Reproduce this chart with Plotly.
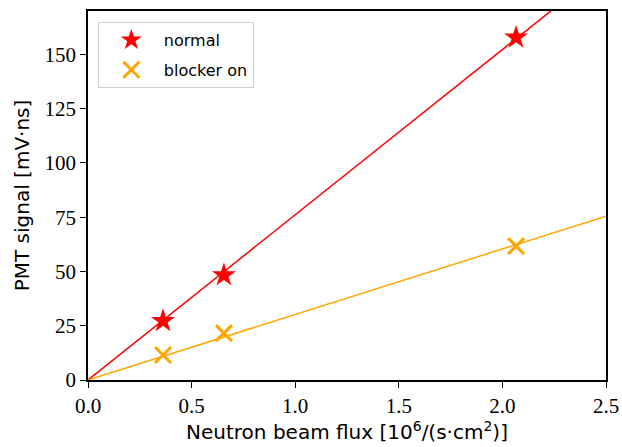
import numpy as np
import plotly.graph_objects as go

flux = [0.362, 0.656, 2.066]
signal_normal = [27.2, 48.3, 157.8]
signal_blocker = [11.5, 21.6, 61.7]
x_ticks = [0.0, 0.5, 1.0, 1.5, 2.0, 2.5]
y_ticks = [0, 25, 50, 75, 100, 125, 150]

xa = np.array(flux)
def fit_slope(y):
    ya = np.array(y)
    return float((xa * ya).sum() / (xa * xa).sum())

k_norm = fit_slope(signal_normal)
k_block = fit_slope(signal_blocker)
xline = np.array([0.0, 2.5])

fig = go.Figure()
fig.add_trace(go.Scatter(x=xline, y=k_norm * xline, mode="lines",
                         line=dict(color="red", width=1.5), showlegend=False, hoverinfo="skip"))
fig.add_trace(go.Scatter(x=xline, y=k_block * xline, mode="lines",
                         line=dict(color="orange", width=1.5), showlegend=False, hoverinfo="skip"))
fig.add_trace(go.Scatter(x=flux, y=signal_normal, mode="markers", name="normal",
                         legendgroup="a",
                         marker=dict(symbol="star", size=18, color="red", line=dict(width=0))))
fig.add_trace(go.Scatter(x=flux, y=signal_blocker, mode="markers", name="blocker on",
                         legendgroup="b",
                         marker=dict(symbol="x-thin", size=16, color="orange",
                                     line=dict(width=3, color="orange"))))

axis_common = dict(showline=True, linecolor="black", linewidth=1.5, mirror=True,
                   ticks="outside", ticklen=6, tickwidth=1.2, tickcolor="black",
                   showgrid=False, zeroline=False, automargin=False,
                   tickfont=dict(family="Liberation Serif, serif", size=21, color="black"))

fig.update_layout(
    width=622, height=447,
    margin=dict(l=88, r=16, t=11, b=67),
    plot_bgcolor="white", paper_bgcolor="white",
    xaxis=dict(range=[0, 2.5], tickvals=x_ticks, tickformat=".1f",
               title=dict(text="Neutron beam flux [10<sup>6</sup>/(s·cm<sup>2</sup>)]",
                          font=dict(family="DejaVu Sans", size=20, color="black"), standoff=8),
               **axis_common),
    yaxis=dict(range=[0, 170], tickvals=y_ticks,
               title=dict(text="PMT signal [mV·ns]",
                          font=dict(family="DejaVu Sans", size=20, color="black"), standoff=10),
               **axis_common),
    legend=dict(x=0.019, y=0.97, xanchor="left", yanchor="top",
                bgcolor="rgba(255,255,255,0.8)", bordercolor="#d0d0d0", borderwidth=1,
                font=dict(family="DejaVu Sans", size=16, color="black"),
                itemwidth=55, tracegroupgap=6),
)

fig.write_html("out.html")
